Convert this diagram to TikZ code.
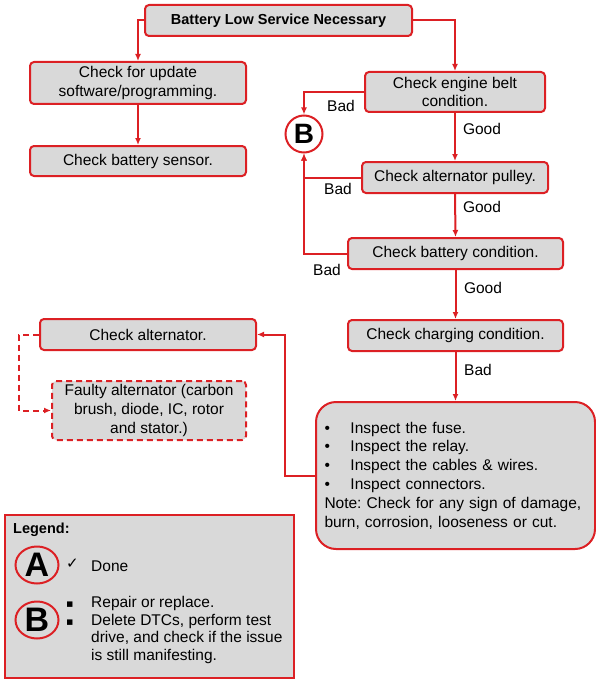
\documentclass[tikz,border=0pt]{standalone}
\usepackage{fontspec}
\setmainfont{Liberation Sans}
\newfontfamily\symfont{DejaVu Sans}
\usetikzlibrary{arrows.meta,shapes.geometric}
\definecolor{mred}{RGB}{220,32,36}
\definecolor{mgray}{RGB}{217,217,217}
\frenchspacing
\tikzset{
  box/.style={draw=mred, line width=2pt, fill=mgray, rounded corners=4pt, inner sep=2pt,
     font=\fontsize{15.5}{18.8}\selectfont, align=center},
  conn/.style={draw=mred, line width=2pt, -{Latex[length=7pt,width=6pt]}},
  dashline/.style={dash pattern=on 6pt off 4pt},
  lbl/.style={font=\fontsize{15.5}{18.8}\selectfont, inner sep=0pt},
  bcirc/.style={draw=mred, line width=2pt, fill=white, circle, minimum size=37pt, inner sep=0pt,
     font=\fontsize{28}{28}\bfseries\selectfont},
  legcirc/.style={draw=mred, line width=2pt, ellipse, minimum width=43pt, minimum height=37pt, inner sep=0pt,
     font=\fontsize{34}{34}\bfseries\selectfont},
}
\begin{document}
\begin{tikzpicture}[x=1pt,y=-1pt]
\useasboundingbox (0,0) rectangle (596,682);
% nodes
\node[box, minimum width=267pt, minimum height=31pt, font=\fontsize{14.5}{18}\bfseries\selectfont] (top) at (278.5,20.5) {Battery Low Service Necessary};
\node[box, minimum width=216pt, minimum height=42pt] (upd) at (138,83) {Check for update\\software/programming.};
\node[box, minimum width=216pt, minimum height=30pt] (sens) at (138,161) {Check battery sensor.};
\node[box, minimum width=180pt, minimum height=40pt] (belt) at (455,92) {Check engine belt\\condition.};
\node[bcirc] (B) at (304,134) {B};
\node[box, minimum width=186pt, minimum height=31pt] (pul) at (455,177.5) {Check alternator pulley.};
\node[box, minimum width=215pt, minimum height=31pt] (bat) at (455.5,253.5) {Check battery condition.};
\node[box, minimum width=215pt, minimum height=31pt] (chg) at (455.5,335.5) {Check charging condition.};
\node[box, rounded corners=20pt, minimum width=279pt, minimum height=147pt, align=left, text width=262pt, inner sep=8pt] (insp) at (455.5,475.5)
  {\makebox[26pt][l]{•}Inspect the fuse.\\
   \makebox[26pt][l]{•}Inspect the relay.\\
   \makebox[26pt][l]{•}Inspect the cables \& wires.\\
   \makebox[26pt][l]{•}Inspect connectors.\\
   Note: Check for any sign of damage,\\
   burn, corrosion, looseness or cut.};
\node[box, minimum width=216pt, minimum height=31pt] (alt) at (148,334.5) {Check alternator.};
\node[box, dashline, minimum width=194pt, minimum height=59pt] (faul) at (149,410.5) {Faulty alternator (carbon\\brush, diode, IC, rotor\\and stator.)};
% connectors
\draw[conn] (top.west) -| (upd.north);
\draw[conn] (upd.south) -- (sens.north);
\draw[conn] (top.east) -| (belt.north);
\draw[conn] (belt.south) -- (pul.north);
\draw[conn] (pul.south) -- (bat.north);
\draw[conn] (bat.south) -- (chg.north);
\draw[conn] (chg.south) -- (insp.north);
\draw[conn] (belt.west) -| (B.north);
\draw[conn] (pul.west) -| (B.south);
\draw[conn] (bat.west) -| (B.south);
\draw[conn] (insp.west) -- ++(-30,0) |- (alt.east);
\draw[conn, dashline] (alt.west) -- ++(-20,0) |- (faul.west);
% labels
\node[lbl] (l1) at (341,106) {Bad};
\node[lbl] (l2) at (482,129) {Good};
\node[lbl] (l3) at (338,189) {Bad};
\node[lbl] (l4) at (482,207) {Good};
\node[lbl] (l5) at (327,270) {Bad};
\node[lbl] (l6) at (483,288) {Good};
\node[lbl] (l7) at (478,370) {Bad};
% legend
\node[draw=mred, line width=2pt, fill=mgray, minimum width=289pt, minimum height=163pt, inner sep=0pt] (leg) at (149.5,596.5) {};
\node[lbl, anchor=west, font=\fontsize{14.5}{18}\bfseries\selectfont] (legt) at (13,530) {Legend:};
\node[legcirc] (lA) at (37,565) {A};
\node[legcirc] (lB) at (37,620) {B};
\node[lbl, anchor=west] (chk) at (66,564) {\symfont\fontsize{15}{15}\selectfont ✓};
\node[lbl, anchor=west] (done) at (91,566) {Done};
\node[lbl, anchor=north west, align=left, font=\fontsize{15.5}{17.7}\selectfont] (rep) at (66,596)
  {\makebox[25pt][l]{\symfont\fontsize{11}{11}\selectfont ▪}Repair or replace.\\
   \makebox[25pt][l]{\symfont\fontsize{11}{11}\selectfont ▪}Delete DTCs, perform test\\
   \hspace*{25pt}drive, and check if the issue\\
   \hspace*{25pt}is still manifesting.};
\end{tikzpicture}
\end{document}
